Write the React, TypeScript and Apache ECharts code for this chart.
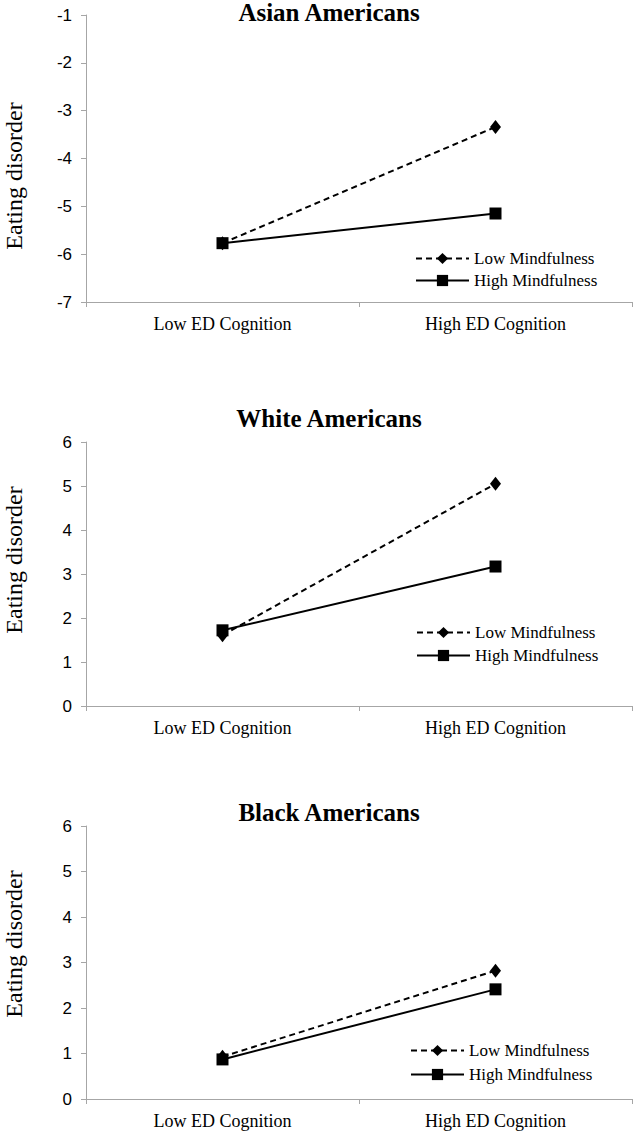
import React, { useEffect, useRef } from "react";
import * as echarts from "echarts";

const categories = ["Low ED Cognition", "High ED Cognition"];
const panelTitles = ["Asian Americans", "White Americans", "Black Americans"];
const seriesNames = ["Low Mindfulness", "High Mindfulness"];

const asianLow = [-5.77, -3.34];
const asianHigh = [-5.77, -5.15];
const whiteLow = [1.61, 5.05];
const whiteHigh = [1.72, 3.17];
const blackLow = [0.93, 2.82];
const blackHigh = [0.87, 2.41];

const yMins = [-7, 0, 0];
const yMaxs = [-1, 6, 6];
const yName = "Eating disorder";

const W = 633;
const H = 1131;

export default function App() {
  const ref = useRef<HTMLDivElement>(null);

  useEffect(() => {
    if (!ref.current) return;
    const chart = echarts.init(ref.current, undefined, { renderer: "svg" });

    const grids = [
      { top: 15, height: 287 },
      { top: 442, height: 264 },
      { top: 826, height: 273 },
    ];
    const titleTops = [0, 406, 800];
    const nameCenters = [176, 560, 944];
    const legendPos = [
      { left: 415, top: 250, gap: 5 },
      { left: 416, top: 624, gap: 6 },
      { left: 410, top: 1042, gap: 7 },
    ];
    const lows = [asianLow, whiteLow, blackLow];
    const highs = [asianHigh, whiteHigh, blackHigh];

    const axisGray = "#a6a6a6";
    const serif = "'Liberation Serif', 'Times New Roman', serif";
    const sans = "'Liberation Sans', Arial, sans-serif";

    const series: any[] = [];
    for (let i = 0; i < 3; i++) {
      series.push({
        name: seriesNames[0],
        type: "line",
        xAxisIndex: i,
        yAxisIndex: i,
        data: lows[i],
        symbol: "diamond",
        symbolSize: [11, 14],
        lineStyle: { color: "#000", width: 2, type: [6, 4] },
        itemStyle: { color: "#000" },
        z: 2,
      });
      series.push({
        name: seriesNames[1],
        type: "line",
        xAxisIndex: i,
        yAxisIndex: i,
        data: highs[i],
        symbol: "rect",
        symbolSize: 12,
        lineStyle: { color: "#000", width: 2, type: "solid" },
        itemStyle: { color: "#000" },
        z: 3,
      });
    }

    const option: any = {
      animation: false,
      backgroundColor: "#fff",
      title: panelTitles.map((t, i) => ({
        text: t,
        left: 329,
        top: titleTops[i],
        textAlign: "center",
        padding: 0,
        textStyle: {
          fontFamily: serif,
          fontWeight: "bold",
          fontSize: 25,
          color: "#000",
          lineHeight: 25,
        },
      })),
      legend: legendPos.map((p) => ({
        data: seriesNames,
        orient: "vertical",
        left: p.left,
        top: p.top,
        itemWidth: 53,
        itemHeight: 14,
        itemGap: p.gap,
        padding: 0,
        selectedMode: false,
        textStyle: { fontFamily: serif, fontSize: 17, color: "#000" },
      })),
      grid: grids.map((g) => ({
        left: 86,
        right: 1,
        top: g.top,
        height: g.height,
        containLabel: false,
      })),
      xAxis: grids.map((_, i) => ({
        type: "category",
        gridIndex: i,
        data: categories,
        boundaryGap: true,
        axisLine: { show: true, lineStyle: { color: axisGray, width: 1 } },
        axisTick: { show: true, length: 5, lineStyle: { color: axisGray } },
        axisLabel: {
          margin: 13,
          fontFamily: serif,
          fontSize: 18,
          color: "#000",
        },
        splitLine: { show: false },
      })),
      yAxis: grids.map((_, i) => ({
        type: "value",
        gridIndex: i,
        min: yMins[i],
        max: yMaxs[i],
        interval: 1,
        axisLine: { show: true, lineStyle: { color: axisGray, width: 1 } },
        axisTick: { show: true, length: 5, lineStyle: { color: axisGray } },
        axisLabel: {
          margin: 14,
          fontFamily: sans,
          fontSize: 17,
          color: "#000",
        },
        splitLine: { show: false },
      })),
      graphic: nameCenters.map((cy) => ({
        type: "text",
        x: 14,
        y: cy,
        rotation: Math.PI / 2,
        style: {
          text: yName,
          fontFamily: serif,
          fontSize: 24,
          fill: "#000",
          textAlign: "center",
          textVerticalAlign: "middle",
        },
      })),
      series,
    };

    chart.setOption(option);
    return () => chart.dispose();
  }, []);

  return (
    <div
      ref={ref}
      style={{ position: "absolute", left: 0, top: 0, width: W, height: H }}
    />
  );
}
